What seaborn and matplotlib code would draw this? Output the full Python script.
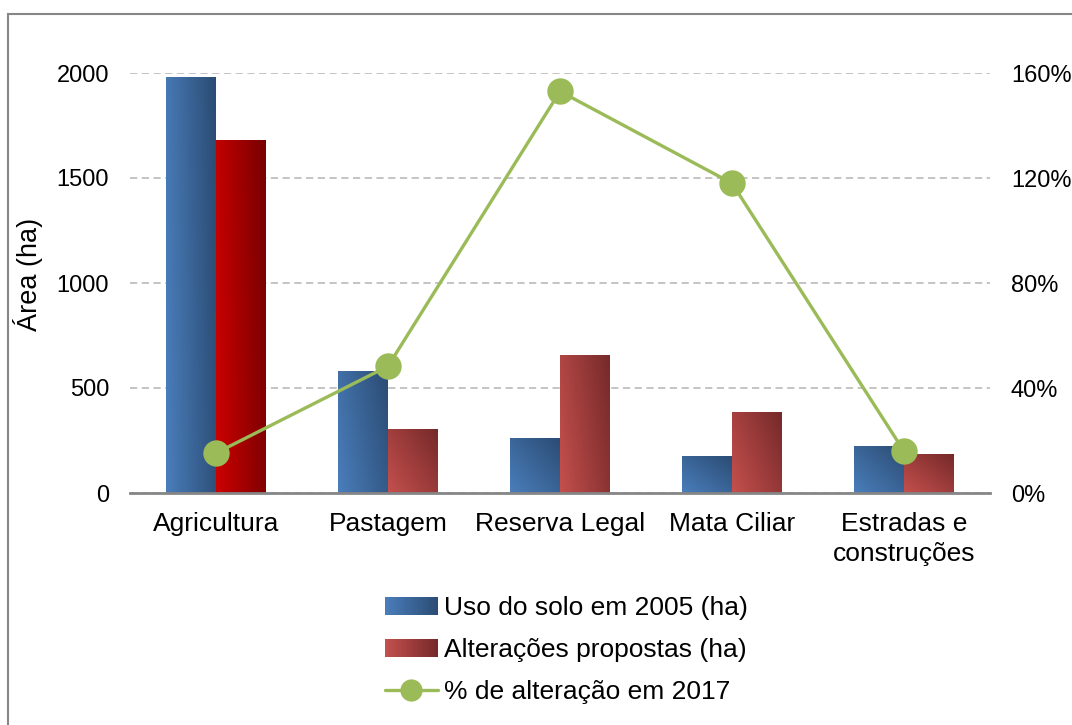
import numpy as np
import pandas as pd
import matplotlib
matplotlib.use("Agg")
import matplotlib.pyplot as plt
import seaborn as sns
from matplotlib.colors import to_rgb
from matplotlib.patches import Rectangle
from matplotlib.legend_handler import HandlerBase
from matplotlib.lines import Line2D
from matplotlib.ticker import FuncFormatter

# ---- data -------------------------------------------------------------
categorias = ["Agricultura", "Pastagem", "Reserva Legal", "Mata Ciliar",
              "Estradas e\nconstruções"]
uso_2005 = [1980, 580, 260, 175, 220]
alteracoes = [1680, 300, 655, 385, 185]
pct_alteracao = [15.2, 48.3, 153.0, 118.0, 15.9]

serie_uso = "Uso do solo em 2005 (ha)"
serie_alt = "Alterações propostas (ha)"
serie_pct = "% de alteração em 2017"

area_ticks = [0, 500, 1000, 1500, 2000]
pct_ticks = [0, 40, 80, 120, 160]

# ---- style --------------------------------------------------------------
sns.set_style("white")
plt.rcParams["font.family"] = ["Liberation Sans", "DejaVu Sans"]
plt.rcParams["text.color"] = "black"
plt.rcParams["axes.labelcolor"] = "black"

AXIS_GRAY = "#868686"
GRID_GRAY = "#BFBFBF"
GREEN = "#9BBB59"
BLUE = ("#4A7EBB", "#2B4C74")
RED = ("#C4504D", "#76292A")
RED_STRONG = ("#CC0000", "#780000")

fig = plt.figure(figsize=(10.72, 7.25), dpi=100)
ax = fig.add_axes([130 / 1072, 1 - 493 / 725, 860 / 1072, 420 / 725])

# outer chart frame
fig.patches.append(Rectangle((8 / 1072, -0.05), 1.1, 1 - 14 / 725 + 0.05,
                             transform=fig.transFigure, fill=False,
                             edgecolor=AXIS_GRAY, linewidth=1.5, zorder=0))

df = pd.DataFrame({
    "categoria": categorias * 2,
    "area": uso_2005 + alteracoes,
    "serie": [serie_uso] * len(categorias) + [serie_alt] * len(categorias),
})

sns.barplot(data=df, x="categoria", y="area", hue="serie",
            order=categorias, hue_order=[serie_uso, serie_alt],
            palette=[BLUE[0], RED[0]], width=0.58, gap=0, legend=False,
            errorbar=None, ax=ax)


def gradient_fill(axis, patch, c0, c1, zorder=2):
    """Replace a flat bar by a light-to-dark diagonal gradient."""
    x, y = patch.get_x(), patch.get_y()
    w, h = patch.get_width(), patch.get_height()
    ext = patch.get_window_extent()
    k = min(1.0, ext.width / max(ext.height, 1e-6))
    u = np.linspace(0, 1, 64)[None, :]
    v = np.linspace(0, 1, 128)[:, None]
    t = (u + k * v) / (1 + k)
    a, b = np.array(to_rgb(c0)), np.array(to_rgb(c1))
    img = a[None, None, :] + (b - a)[None, None, :] * t[:, :, None]
    axis.imshow(img, extent=(x, x + w, y, y + h), origin="lower",
                aspect="auto", interpolation="bilinear", zorder=zorder)
    patch.set_facecolor("none")
    patch.set_edgecolor("none")


ax.set_xlim(-0.5, len(categorias) - 0.5)
ax.set_ylim(0, 2000)

for p in list(ax.patches):
    cx = p.get_x() + p.get_width() / 2
    idx = int(round(cx))
    if cx < idx:
        gradient_fill(ax, p, *BLUE)
    elif idx == 0:
        gradient_fill(ax, p, *RED_STRONG)
    else:
        gradient_fill(ax, p, *RED)

ax.set_xlim(-0.5, len(categorias) - 0.5)
ax.set_ylim(0, 2000)
ax.set_yticks(area_ticks)
ax.set_xticks(range(len(categorias)))
ax.set_xticklabels(categorias, fontsize=19, linespacing=1.35)
ax.set_xticks(np.arange(-0.5, len(categorias)), minor=True)
ax.tick_params(axis="x", which="both", direction="inout", length=11,
               width=1.5, color=AXIS_GRAY, pad=8, labelcolor="black")
ax.tick_params(axis="y", length=0, labelsize=17, pad=15, labelcolor="black")
ax.set_xlabel("")
ax.set_ylabel("Área (ha)", fontsize=19.5)
ax.yaxis.set_label_coords(-0.101, 0.52)

ax.grid(axis="y", color=GRID_GRAY, linestyle=(0, (4, 2.5)), linewidth=1.3)
ax.grid(axis="x", visible=False)
ax.set_axisbelow(True)
for side in ("top", "right", "left"):
    ax.spines[side].set_visible(False)
ax.spines["bottom"].set_color(AXIS_GRAY)
ax.spines["bottom"].set_linewidth(2)
ax.spines["bottom"].set_zorder(3)

# ---- percentage line on secondary axis --------------------------------
ax2 = ax.twinx()
sns.lineplot(x=np.arange(len(categorias)), y=pct_alteracao, ax=ax2,
             color=GREEN, linewidth=2.4, marker="o", markersize=19,
             markeredgewidth=0, legend=False)
ax2.set_xlim(-0.5, len(categorias) - 0.5)
ax2.set_ylim(0, 160)
ax2.set_yticks(pct_ticks)
ax2.yaxis.set_major_formatter(FuncFormatter(lambda v, _: f"{v:.0f}%"))
ax2.tick_params(axis="y", length=0, labelsize=17, pad=15, labelcolor="black")
ax2.set_ylabel("")
for side in ("top", "right", "left", "bottom"):
    ax2.spines[side].set_visible(False)
ax2.grid(False)


# ---- legend ------------------------------------------------------------
class GradientHandler(HandlerBase):
    def __init__(self, c0, c1, n=40):
        super().__init__()
        self.c0 = np.array(to_rgb(c0))
        self.c1 = np.array(to_rgb(c1))
        self.n = n

    def create_artists(self, legend, orig_handle, xdescent, ydescent,
                       width, height, fontsize, trans):
        arts = []
        for i in range(self.n):
            t = (i + 0.5) / self.n
            col = self.c0 + (self.c1 - self.c0) * t
            arts.append(Rectangle((-xdescent + width * i / self.n, -ydescent),
                                  width / self.n * 1.1, height,
                                  facecolor=col, edgecolor="none",
                                  transform=trans))
        return arts


h_uso = Rectangle((0, 0), 1, 1)
h_alt = Rectangle((0, 0), 1, 1)
h_pct = Line2D([], [], color=GREEN, linewidth=2.4, marker="o",
               markersize=16, markeredgewidth=0)
fig.legend([h_uso, h_alt, h_pct], [serie_uso, serie_alt, serie_pct],
           handler_map={h_uso: GradientHandler(*BLUE),
                        h_alt: GradientHandler(*RED)},
           loc="center left", bbox_to_anchor=(385 / 1072, 1 - 650 / 725),
           frameon=False, fontsize=19, borderpad=0, borderaxespad=0,
           handlelength=2.0, handleheight=0.68, handletextpad=0.25,
           labelspacing=0.68)

fig.savefig("out.png", dpi=100)
